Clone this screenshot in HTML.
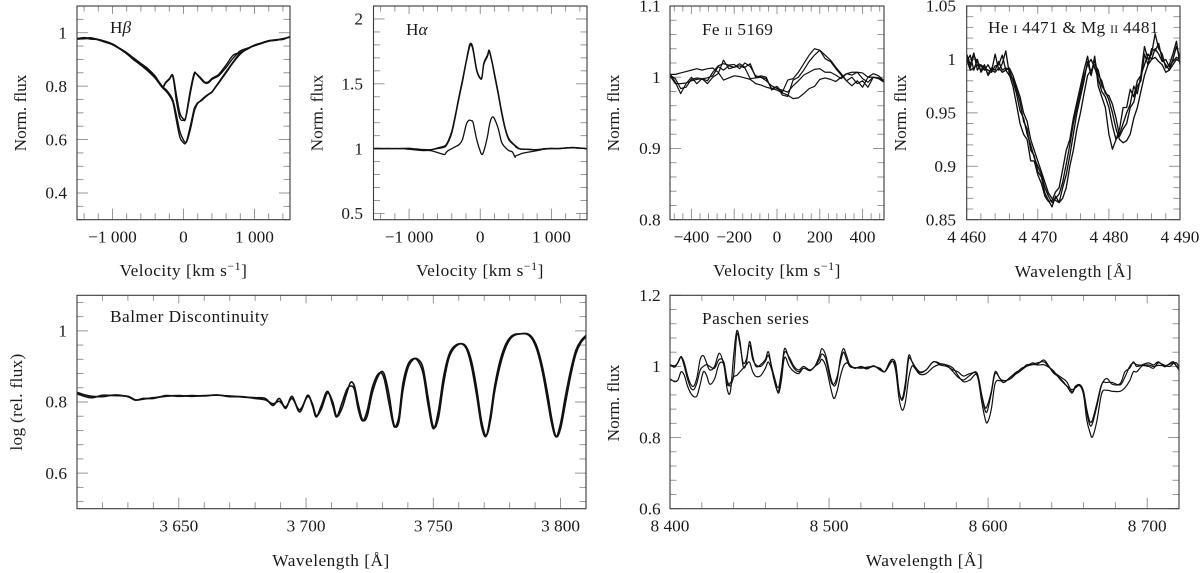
<!DOCTYPE html>
<html lang="en">
<head>
<meta charset="utf-8">
<title>Spectral line profiles</title>
<style>
html,body{margin:0;padding:0;background:#fff;width:1200px;height:573px;overflow:hidden}
svg{display:block}
text{font-family:"Liberation Serif",serif;font-size:17.3px;fill:#1a1a1a}
.it{font-style:italic}
.sc{font-size:11.5px}
.wide{letter-spacing:.5px}
.mid{letter-spacing:.3px}
</style>
</head>
<body>
<svg id="figure" width="1200" height="573" viewBox="0 0 1200 573" xmlns="http://www.w3.org/2000/svg">
  <rect width="1200" height="573" fill="#fff"/>

  <text x="110" y="33">H<tspan class="it">β</tspan></text>
  <text x="406" y="35">H<tspan class="it">α</tspan></text>
  <text class="mid" x="702" y="35">Fe <tspan class="sc">II</tspan> 5169</text>
  <text class="mid" x="988" y="33">He <tspan class="sc">I</tspan> 4471 &amp; Mg <tspan class="sc">II</tspan> 4481</text>
  <text class="wide" x="110" y="322">Balmer Discontinuity</text>
  <text class="wide" x="702" y="324">Paschen series</text>

  <text class="wide" x="183.5" y="276" text-anchor="middle">Velocity [km s<tspan font-size="12" dy="-6">−1</tspan><tspan dy="6">]</tspan></text>
  <text class="wide" x="480" y="276" text-anchor="middle">Velocity [km s<tspan font-size="12" dy="-6">−1</tspan><tspan dy="6">]</tspan></text>
  <text class="wide" x="777" y="276" text-anchor="middle">Velocity [km s<tspan font-size="12" dy="-6">−1</tspan><tspan dy="6">]</tspan></text>
  <text class="wide" x="1073.5" y="277" text-anchor="middle">Wavelength [Å]</text>
  <text class="wide" x="331" y="566" text-anchor="middle">Wavelength [Å]</text>
  <text class="wide" x="924.5" y="566" text-anchor="middle">Wavelength [Å]</text>

  <text transform="translate(26,113) rotate(-90)" text-anchor="middle">Norm. flux</text>
  <text transform="translate(322.5,113) rotate(-90)" text-anchor="middle">Norm. flux</text>
  <text transform="translate(619,113) rotate(-90)" text-anchor="middle">Norm. flux</text>
  <text transform="translate(906,113) rotate(-90)" text-anchor="middle">Norm. flux</text>
  <text class="mid" transform="translate(22,402) rotate(-90)" text-anchor="middle">log (rel. flux)</text>
  <text transform="translate(619,403) rotate(-90)" text-anchor="middle">Norm. flux</text>
</svg>

<script>
/* ---------- H-beta ---------- */
var hbetaVelocity = [-1500,-1400,-1300,-1200,-1100,-1000,-900,-800,-700,-600,-500,-400,-300,-250,-200,-150,-100,-50,0,25,50,100,150,175,200,250,300,350,400,450,500,600,700,800,900,1000,1100,1200,1300,1400,1500];
var hbetaUpperA = [.978,.982,.978,.975,.968,.958,.942,.925,.905,.885,.865,.838,.80,.815,.828,.84,.767,.698,.677,.678,.704,.779,.841,.848,.842,.829,.815,.816,.829,.836,.845,.879,.916,.925,.94,.954,.962,.97,.972,.976,.985];
var hbetaUpperB = [.976,.978,.981,.973,.964,.956,.94,.922,.898,.88,.858,.832,.797,.812,.825,.835,.745,.68,.672,.675,.712,.79,.848,.848,.84,.825,.812,.812,.825,.832,.84,.87,.905,.932,.942,.952,.96,.968,.973,.978,.983];
var hbetaLowerA = [.978,.98,.976,.974,.966,.957,.941,.924,.9,.882,.86,.835,.80,.788,.772,.748,.692,.629,.598,.59,.595,.642,.704,.722,.735,.748,.76,.77,.779,.797,.816,.854,.891,.925,.938,.953,.962,.969,.971,.977,.984];
var hbetaLowerB = [.977,.977,.979,.975,.965,.955,.94,.921,.899,.878,.856,.83,.795,.782,.765,.74,.672,.608,.588,.585,.6,.655,.715,.728,.738,.745,.757,.768,.777,.795,.813,.85,.888,.92,.94,.951,.96,.97,.974,.975,.986];
var hbetaXTicks = [-1000,0,1000];
var hbetaXLabels = ['−1 000','0','1 000'];
var hbetaYTicks = [0.4,0.6,0.8,1];
var hbetaYLabels = ['0.4','0.6','0.8','1'];

/* ---------- H-alpha ---------- */
var halphaVelocity = [-1500,-1300,-1100,-1000,-900,-800,-700,-600,-505,-480,-450,-400,-350,-300,-250,-200,-175,-150,-125,-100,-50,0,25,50,100,125,150,175,200,250,300,350,400,450,490,500,550,600,700,800,900,1000,1100,1300,1500];
var halphaStrongA = [1.0,1.002,1.0,1.003,.995,.99,.99,1.005,1.02,1.03,1.06,1.135,1.26,1.40,1.53,1.67,1.74,1.80,1.81,1.77,1.61,1.545,1.555,1.66,1.72,1.76,1.71,1.65,1.58,1.44,1.29,1.16,1.08,1.045,1.025,1.02,1.0,.995,.995,.99,1.0,1.0,1.002,1.008,1.0];
var halphaStrongB = [1.002,1.0,1.002,1.0,.998,.993,.992,1.0,1.012,1.022,1.05,1.12,1.245,1.385,1.515,1.66,1.725,1.785,1.8,1.755,1.6,1.54,1.55,1.65,1.71,1.75,1.7,1.64,1.565,1.425,1.275,1.15,1.07,1.04,1.02,1.012,.998,.997,.992,.993,.998,1.003,1.0,1.01,.998];
var halphaWeak = [1.0,1.0,1.0,.995,.99,.985,.985,.97,.955,.97,.985,1.0,1.015,1.03,1.07,1.18,1.21,1.22,1.215,1.20,1.07,.98,.955,.98,1.09,1.17,1.225,1.245,1.23,1.16,1.05,1.01,.985,.975,.935,.945,.955,.965,.975,.985,.995,1.0,1.0,1.006,1.0];
var halphaXTicks = [-1000,0,1000];
var halphaXLabels = ['−1 000','0','1 000'];
var halphaYTicks = [0.5,1,1.5,2];
var halphaYLabels = ['0.5','1','1.5','2'];

/* ---------- Fe II 5169 ---------- */
var feVelocity = [-500,-475,-450,-425,-400,-375,-350,-325,-300,-275,-250,-225,-200,-175,-150,-125,-100,-75,-50,-25,0,25,50,75,100,125,150,175,200,225,250,275,300,325,350,375,400,425,450,475,500];
var feCurveA = [1.004,1.004,1.006,1.008,1.010,1.012,1.010,1.012,1.013,1.007,.996,.999,1.002,1.001,.999,.997,.991,.989,.986,.984,.982,.978,.975,.970,.971,.977,.984,.987,.997,.999,.997,.994,1.0,1.005,1.007,1.007,1.006,1.0,1.005,1.002,.995];
var feCurveB = [1.002,.991,.991,.992,.995,.997,.998,.999,1.002,1.015,1.010,1.016,1.014,1.016,1.013,.998,.999,1.000,.995,.988,.984,.982,.979,.988,.995,1.003,1.007,1.011,1.012,1.007,1.007,1.003,.998,1.005,1.003,1.007,.998,.993,1.0,.999,.995];
var feCurveC = [1.003,.998,.984,.986,.997,.999,.998,.995,1.007,1.016,1.019,1.017,1.018,1.012,1.020,1.015,1.002,1.000,.998,.984,.987,.979,.996,.998,1.007,1.019,1.031,1.040,1.038,1.026,1.022,1.012,1.003,.995,1.0,.991,.995,.986,1.0,.998,.993];
var feCurveD = [1.005,.993,.977,.991,1.000,.991,.998,.991,1.000,1.005,1.024,1.012,1.014,1.019,1.014,1.019,1.000,1.002,1.000,.982,.987,.975,.973,.996,1.0,1.01,1.022,1.031,1.038,1.031,1.024,1.014,1.005,.995,.988,.995,.986,1.0,1.0,.998,.995];
var feXTicks = [-400,-200,0,200,400];
var feXLabels = ['−400','−200','0','200','400'];
var feYTicks = [0.8,0.9,1,1.1];
var feYLabels = ['0.8','0.9','1','1.1'];

/* ---------- He I 4471 & Mg II 4481 ---------- */
var heWavelength = [4460,4460.5,4461,4461.5,4462,4462.5,4463,4463.5,4464,4464.5,4465,4465.5,4466,4466.5,4467,4467.5,4468,4468.5,4469,4469.5,4470,4470.5,4471,4471.5,4472,4472.5,4473,4473.5,4474,4474.5,4475,4475.5,4476,4476.5,4477,4477.5,4478,4478.5,4479,4479.5,4480,4480.5,4481,4481.5,4482,4482.5,4483,4483.5,4484,4484.5,4485,4485.5,4486,4486.5,4487,4487.5,4488,4488.5,4489,4489.5,4490];
var heCurveA = [1.002,.992,1.004,.997,.994,.99,.995,.989,1.005,.99,.996,1.008,.986,.975,.958,.94,.93,.925,.905,.905,.892,.884,.872,.867,.868,.876,.88,.897,.915,.925,.945,.96,.975,.99,1.003,.985,1.003,.975,.965,.955,.93,.916,.925,.935,.955,.955,.972,.965,.98,.985,1.012,1.0,1.005,1.024,1.01,1.005,.992,.995,1.005,1.017,.995];
var heCurveB = [.998,1.004,.99,1.0,.988,.993,.986,.992,.99,.998,.99,.992,.99,.98,.968,.952,.945,.93,.92,.908,.9,.892,.88,.872,.866,.87,.874,.885,.902,.92,.94,.955,.97,.985,.995,1.0,.992,.982,.97,.965,.955,.938,.925,.93,.94,.95,.958,.975,.968,.985,.995,1.005,1.0,1.01,1.005,.998,1.0,.993,.998,1.002,1.0];
var heCurveC = [1.0,.99,.992,.995,.99,.995,.985,.99,.988,.992,.988,.99,.992,.985,.975,.965,.95,.942,.925,.915,.905,.895,.885,.875,.87,.868,.866,.87,.88,.9,.915,.935,.95,.968,.985,.99,.995,.99,.975,.97,.962,.95,.935,.925,.922,.924,.93,.945,.955,.97,.985,.995,1.0,1.002,.998,.995,.988,.99,.995,1.0,.998];
var heCurveD = [1.005,.995,1.006,.99,.995,.992,.99,.988,.994,.995,1.004,.99,.985,.982,.972,.96,.942,.935,.915,.91,.895,.89,.875,.868,.862,.872,.866,.88,.892,.91,.93,.95,.965,.98,.998,.985,1.0,.985,.98,.968,.966,.958,.945,.928,.935,.94,.955,.96,.975,.98,1.005,.995,1.01,1.008,1.015,1.0,.995,.99,1.0,1.012,1.002];
var heXTicks = [4460,4470,4480,4490];
var heXLabels = ['4 460','4 470','4 480','4 490'];
var heYTicks = [0.85,0.9,0.95,1,1.05];
var heYLabels = ['0.85','0.9','0.95','1','1.05'];

/* ---------- Balmer discontinuity ---------- */
var balmerWavelength = [3610,3613,3616,3620,3625,3630,3633,3636,3640,3645,3650,3655,3660,3665,3670,3675,3680,3684,3687,3689.5,3692,3694.5,3697.5,3700.6,3702.5,3704,3706,3708.4,3710.5,3712,3714,3716,3717.5,3719,3720.5,3722.2,3724,3726,3728.5,3730.5,3732.5,3734,3735,3736.5,3738,3740,3742.2,3744,3746,3748,3750,3752,3754,3756,3758,3760.8,3763,3765,3767,3769,3770.8,3772.5,3774,3776,3778,3780,3782,3784.8,3787,3789,3791,3793,3795,3796.5,3798.2,3800,3802,3804,3806,3808,3810];
var balmerCurveA = [.823,.816,.812,.819,.818,.816,.806,.808,.812,.816,.818,.816,.818,.819,.817,.814,.812,.81,.79,.81,.782,.816,.772,.819,.79,.758,.79,.83,.79,.758,.795,.835,.845,.835,.78,.747,.775,.84,.88,.87,.8,.745,.73,.76,.85,.905,.922,.915,.88,.79,.725,.775,.87,.93,.955,.964,.95,.90,.82,.73,.704,.765,.84,.91,.955,.98,.99,.992,.99,.975,.94,.88,.80,.74,.702,.74,.82,.89,.945,.972,.987];
var balmerCurveB = [.827,.82,.816,.815,.82,.815,.805,.81,.81,.818,.816,.818,.817,.82,.815,.815,.81,.806,.795,.802,.786,.81,.778,.815,.795,.762,.78,.825,.80,.76,.78,.825,.855,.845,.795,.75,.76,.825,.875,.882,.825,.755,.73,.745,.83,.895,.92,.92,.895,.81,.73,.755,.85,.92,.95,.964,.955,.915,.84,.745,.706,.75,.825,.895,.945,.975,.988,.992,.992,.98,.95,.895,.82,.755,.703,.725,.80,.875,.935,.967,.983];
var balmerXTicks = [3650,3700,3750,3800];
var balmerXLabels = ['3 650','3 700','3 750','3 800'];
var balmerYTicks = [0.6,0.8,1];
var balmerYLabels = ['0.6','0.8','1'];

/* ---------- Paschen series ---------- */
var paschenWavelength = [8400,8403,8405,8407,8409,8411,8413,8415,8417,8419,8421,8423,8425,8428,8431,8434,8436,8438,8440,8442,8444,8446,8448,8450,8452,8454,8457,8460,8462,8465,8468,8470,8472,8475,8478,8481,8484,8488,8491,8494,8495.5,8498,8501,8503,8505,8507,8509,8511,8513,8516,8520,8524,8528,8532,8535,8538,8540,8542,8544,8546,8548,8550,8552,8554,8557,8561,8565.6,8570,8574,8578,8581,8584.5,8588.6,8593,8596,8598,8599.5,8602,8604.4,8607.5,8610,8614,8618,8621,8624,8628,8631,8635,8638,8641,8645,8649.4,8652.6,8655,8657.8,8660,8662,8664,8665.6,8668.3,8671.4,8674.6,8678,8683,8686,8689,8691.3,8693.4,8697,8701,8704,8707,8711,8714,8716.5,8718.5,8720];
var paschenCurveA = [1.005,.998,1.012,1.028,1.01,.975,.95,.945,.97,1.02,1.03,1.01,.99,1.0,1.037,1.0,.935,.93,1.03,1.10,1.07,1.0,1.01,1.07,1.03,1.0,1.005,1.02,1.04,.97,.93,.98,1.05,1.02,.995,.985,.995,.99,1.0,1.03,1.05,1.03,.97,.945,.96,1.02,1.05,1.03,1.005,.995,1.0,.995,1.0,.993,.985,1.012,1.02,1.005,.93,.91,.955,1.03,1.015,.995,.982,.99,1.013,1.004,1.0,.99,.985,.973,.98,.977,.915,.877,.875,.925,.98,.966,.955,.97,.98,.99,1.004,1.006,1.01,1.013,1.0,.985,.972,.957,.929,.945,.948,.924,.87,.835,.84,.887,.948,.966,.95,.952,.985,.995,1.013,1.0,1.005,1.01,1.004,1.013,.999,1.008,1.013,1.0,.99];
var paschenCurveB = [1.004,1.002,1.010,1.026,1.0,.965,.94,.935,.955,.99,1.0,1.005,1.0,.995,1.02,1.01,.95,.955,.975,1.09,1.06,1.01,1.02,1.06,1.02,1.005,1.0,1.015,1.03,.98,.94,.985,1.04,1.025,1.0,.99,1.0,.99,1.0,1.02,1.035,1.02,.96,.95,.97,1.01,1.04,1.02,1.0,.997,.995,.998,1.0,.995,.985,1.005,1.015,1.0,.93,.905,.94,1.02,1.015,1.0,.985,.99,1.013,1.008,1.003,.985,.97,.962,.975,.982,.92,.885,.89,.93,.985,.965,.96,.965,.982,.995,1.0,1.01,1.004,1.005,.998,.988,.965,.945,.935,.94,.948,.93,.88,.845,.85,.895,.95,.955,.955,.948,.97,1.0,1.01,1.005,1.003,1.0,.995,1.01,1.003,1.0,1.008,1.01,.995];
var paschenCurveC = [.965,.957,.962,.985,.975,.945,.925,.915,.918,.95,.985,.975,.95,.965,1.008,1.005,.96,.945,.97,.975,.985,.995,1.005,1.012,.985,.972,.974,.995,1.012,.975,.925,.96,1.025,1.0,.985,.98,.995,.988,1.0,1.01,1.02,1.0,.94,.91,.93,.97,1.0,1.01,1.005,.995,.998,.993,1.002,.99,.985,1.005,1.015,.985,.91,.877,.90,.965,1.0,.995,.978,.98,.998,1.006,1.004,.995,.975,.957,.962,.975,.90,.855,.842,.88,.952,.96,.955,.97,.985,.99,1.0,1.005,1.006,1.018,1.002,.982,.968,.945,.925,.942,.945,.92,.85,.815,.802,.845,.924,.933,.93,.93,.94,.96,.985,.985,1.002,1.004,1.0,1.003,1.002,1.006,1.01,1.0,.992];
var paschenXTicks = [8400,8500,8600,8700];
var paschenXLabels = ['8 400','8 500','8 600','8 700'];
var paschenYTicks = [0.6,0.8,1,1.2];
var paschenYLabels = ['0.6','0.8','1','1.2'];

var SVG_NS = 'http://www.w3.org/2000/svg';
var figure = document.getElementById('figure');

function makeScale(d0, d1, p0, p1) {
  return function (v) { return p0 + (v - d0) * (p1 - p0) / (d1 - d0); };
}

function addTickLine(group, x1, y1, x2, y2, isMajor) {
  var tick = document.createElementNS(SVG_NS, 'line');
  
  
  tick.setAttribute('x1', x1);
  tick.setAttribute('y1', y1);
  tick.setAttribute('x2', x2);
  tick.setAttribute('y2', y2);
  tick.setAttribute('stroke', '#8c8c8c');
  tick.setAttribute('stroke-width', '0.9');
  group.appendChild(tick);
}

function addTickLabel(group, x, y, anchor, label) {
  var t = document.createElementNS(SVG_NS, 'text');
  
  
  t.setAttribute('x', x);
  t.setAttribute('y', y);
  t.setAttribute('text-anchor', anchor);
  t.textContent = label;
  group.appendChild(t);
}

function isMajorValue(v, majors, eps) {
  return majors.some(function (m) { return Math.abs(m - v) < eps; });
}

/* Builds an SVG path through the given pixel points; curved when smooth is set. */
function buildPath(points, smooth) {
  var d = 'M' + points[0][0].toFixed(2) + ' ' + points[0][1].toFixed(2);
  for (var i = 1; i < points.length; i++) {
    var cur = points[i];
    if (!smooth) {
      d += 'L' + cur[0].toFixed(2) + ' ' + cur[1].toFixed(2);
      continue;
    }
    var prev = points[i - 1];
    var before = points[Math.max(0, i - 2)];
    var after = points[Math.min(points.length - 1, i + 1)];
    var c1x = prev[0] + (cur[0] - before[0]) / 6;
    var c1y = prev[1] + (cur[1] - before[1]) / 6;
    var c2x = cur[0] - (after[0] - prev[0]) / 6;
    var c2y = cur[1] - (after[1] - prev[1]) / 6;
    d += 'C' + c1x.toFixed(2) + ' ' + c1y.toFixed(2) + ' ' + c2x.toFixed(2) + ' ' + c2y.toFixed(2) + ' ' + cur[0].toFixed(2) + ' ' + cur[1].toFixed(2);
  }
  return d;
}

function drawPanel(p) {
  var sx = makeScale(p.xMin, p.xMax, p.left, p.right);
  var sy = makeScale(p.yMin, p.yMax, p.bottom, p.top);

  var g = document.createElementNS(SVG_NS, 'g');
  
  
  figure.appendChild(g);

  var clip = document.createElementNS(SVG_NS, 'clipPath');
  clip.setAttribute('id', p.name + '-clip');
  var clipRect = document.createElementNS(SVG_NS, 'rect');
  clipRect.setAttribute('x', p.left);
  clipRect.setAttribute('y', p.top);
  clipRect.setAttribute('width', p.right - p.left);
  clipRect.setAttribute('height', p.bottom - p.top);
  clip.appendChild(clipRect);
  g.appendChild(clip);

  var majorLen = 11, minorLen = 6.5, v, i, k, major, len, px, py;
  var xEps = p.xMinor / 100, yEps = p.yMinor / 100;

  k = Math.ceil(p.xMin / p.xMinor - 1e-6);
  for (; k * p.xMinor <= p.xMax + xEps; k++) {
    v = k * p.xMinor;
    major = isMajorValue(v, p.xTicks, xEps);
    len = major ? majorLen : minorLen;
    px = sx(v);
    addTickLine(g, px, p.bottom, px, p.bottom - len, major);
    addTickLine(g, px, p.top, px, p.top + (major ? 8 : minorLen - 1), major);
  }
  k = Math.ceil(p.yMin / p.yMinor - 1e-6);
  for (; k * p.yMinor <= p.yMax + yEps; k++) {
    v = k * p.yMinor;
    major = isMajorValue(v, p.yTicks, yEps);
    len = major ? majorLen : minorLen;
    py = sy(v);
    addTickLine(g, p.left, py, p.left + len, py, major);
    addTickLine(g, p.right, py, p.right - len, py, major);
  }

  for (i = 0; i < p.xTicks.length; i++) {
    addTickLabel(g, sx(p.xTicks[i]), p.bottom + 23, 'middle', p.xLabels[i]);
  }
  for (i = 0; i < p.yTicks.length; i++) {
    addTickLabel(g, p.labelRight, sy(p.yTicks[i]) + 5.7, 'end', p.yLabels[i]);
  }

  p.series.forEach(function (values) {
    var pts = values.map(function (val, j) {
      return [sx(p.xValues[j]), sy(val)];
    });
    var line = document.createElementNS(SVG_NS, 'path');
    
    
    line.setAttribute('d', buildPath(pts, p.smooth));
    line.setAttribute('fill', 'none');
    line.setAttribute('stroke', '#111');
    line.setAttribute('stroke-width', p.lineWidth);
    line.setAttribute('stroke-linejoin', 'round');
    line.setAttribute('clip-path', 'url(#' + p.name + '-clip)');
    g.appendChild(line);
  });

  var frame = document.createElementNS(SVG_NS, 'rect');
  
  
  frame.setAttribute('x', p.left);
  frame.setAttribute('y', p.top);
  frame.setAttribute('width', p.right - p.left);
  frame.setAttribute('height', p.bottom - p.top);
  frame.setAttribute('fill', 'none');
  frame.setAttribute('stroke', '#3a3a3a');
  frame.setAttribute('stroke-width', '1.1');
  g.appendChild(frame);
}

drawPanel({name:'hbeta', left:77, right:290, top:6, bottom:219.7, labelRight:67,
  xMin:-1500, xMax:1500, yMin:0.3, yMax:1.1, xMinor:200, yMinor:0.05, lineWidth:1.4, smooth:true,
  xTicks:hbetaXTicks, xLabels:hbetaXLabels, yTicks:hbetaYTicks, yLabels:hbetaYLabels,
  xValues:hbetaVelocity, series:[hbetaUpperA, hbetaUpperB, hbetaLowerA, hbetaLowerB]});

drawPanel({name:'halpha', left:373.5, right:587, top:6, bottom:219.7, labelRight:363,
  xMin:-1500, xMax:1500, yMin:0.452, yMax:2.1, xMinor:200, yMinor:0.1, lineWidth:1.3, smooth:true,
  xTicks:halphaXTicks, xLabels:halphaXLabels, yTicks:halphaYTicks, yLabels:halphaYLabels,
  xValues:halphaVelocity, series:[halphaStrongA, halphaStrongB, halphaWeak]});

drawPanel({name:'fe', left:670, right:884, top:6, bottom:219.7, labelRight:660.7,
  xMin:-500, xMax:500, yMin:0.8, yMax:1.1, xMinor:40, yMinor:0.02, lineWidth:1.2, smooth:false,
  xTicks:feXTicks, xLabels:feXLabels, yTicks:feYTicks, yLabels:feYLabels,
  xValues:feVelocity, series:[feCurveA, feCurveB, feCurveC, feCurveD]});

drawPanel({name:'he-mg', left:966.7, right:1180, top:6, bottom:219.7, labelRight:956,
  xMin:4460, xMax:4490, yMin:0.85, yMax:1.05, xMinor:2, yMinor:0.01, lineWidth:1.35, smooth:false,
  xTicks:heXTicks, xLabels:heXLabels, yTicks:heYTicks, yLabels:heYLabels,
  xValues:heWavelength, series:[heCurveA, heCurveB, heCurveC, heCurveD]});

drawPanel({name:'balmer', left:77, right:586, top:295.3, bottom:508.7, labelRight:67,
  xMin:3610, xMax:3810, yMin:0.5, yMax:1.1, xMinor:10, yMinor:0.04, lineWidth:1.6, smooth:true,
  xTicks:balmerXTicks, xLabels:balmerXLabels, yTicks:balmerYTicks, yLabels:balmerYLabels,
  xValues:balmerWavelength, series:[balmerCurveA, balmerCurveB]});

drawPanel({name:'paschen', left:670, right:1179, top:295.3, bottom:508.7, labelRight:660.7,
  xMin:8400, xMax:8720, yMin:0.6, yMax:1.2, xMinor:20, yMinor:0.04, lineWidth:1.2, smooth:true,
  xTicks:paschenXTicks, xLabels:paschenXLabels, yTicks:paschenYTicks, yLabels:paschenYLabels,
  xValues:paschenWavelength, series:[paschenCurveA, paschenCurveB, paschenCurveC]});
</script>
</body>
</html>
